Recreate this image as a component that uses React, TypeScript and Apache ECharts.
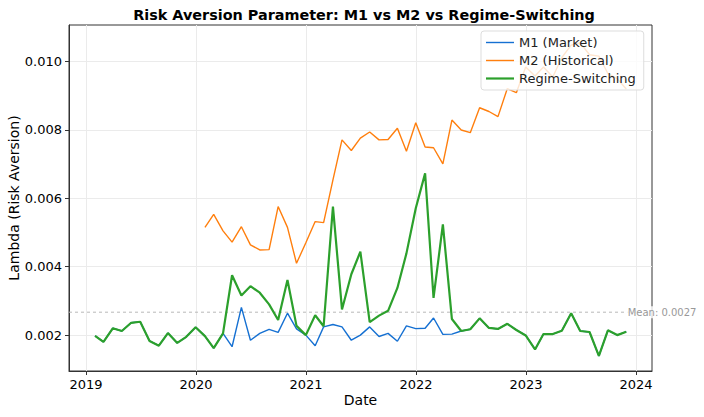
import { useEffect, useRef } from 'react';
import * as echarts from 'echarts';

// monthly (month-end) observations, first one is Jan 2019
const FIRST_YEAR = 2019;

const M1_MARKET = [
  0.00198, 0.0018, 0.0022, 0.00212, 0.00236, 0.00239, 0.00183, 0.00169, 0.00206, 0.00177,
  0.00195, 0.00223, 0.00197, 0.00162, 0.00205, 0.00166, 0.00281, 0.00185, 0.00205, 0.00217,
  0.00208, 0.00264, 0.00218, 0.002, 0.00169, 0.00224, 0.00231, 0.00224, 0.00185, 0.002,
  0.00224, 0.00196, 0.00205, 0.00182, 0.00227, 0.00219, 0.0022, 0.0025, 0.00202, 0.00203,
  0.00212, 0.00217, 0.00249, 0.00221, 0.00218, 0.00233, 0.00215, 0.00199, 0.00158, 0.00203,
  0.00203, 0.00213, 0.00264, 0.00212, 0.00209, 0.00139, 0.00214, 0.002, 0.0021,
];

const M2_HISTORICAL: (number | null)[] = [
  null, null, null, null, null, null, null, null, null, null,
  null, null, 0.00515, 0.00553, 0.00505, 0.00472, 0.00517, 0.00464, 0.00449, 0.0045,
  0.00576, 0.00515, 0.0041, 0.0047, 0.00532, 0.00529, 0.00654, 0.00771, 0.0074, 0.00776,
  0.00794, 0.00771, 0.00772, 0.00805, 0.00738, 0.00821, 0.0075, 0.00748, 0.00701, 0.00829,
  0.008, 0.00792, 0.00865, 0.00854, 0.00839, 0.00921, 0.00909, 0.00984, 0.00958, 0.00984,
  0.00955, 0.01012, 0.01048, 0.01055, 0.0102, 0.01016, 0.00965, 0.0095, 0.0092,
];

const REGIME_SWITCHING = [
  0.00198, 0.0018, 0.0022, 0.00212, 0.00236, 0.00239, 0.00183, 0.00169, 0.00206, 0.00177,
  0.00195, 0.00223, 0.00197, 0.00162, 0.00205, 0.00375, 0.00316, 0.00343, 0.00324, 0.0029,
  0.00244, 0.00361, 0.00227, 0.002, 0.00258, 0.00226, 0.00576, 0.00275, 0.00378, 0.00444,
  0.00238, 0.00257, 0.00271, 0.00338, 0.00439, 0.00571, 0.00673, 0.00309, 0.00524, 0.00247,
  0.00212, 0.00217, 0.00249, 0.00221, 0.00218, 0.00233, 0.00215, 0.00199, 0.00158, 0.00203,
  0.00203, 0.00213, 0.00264, 0.00212, 0.00209, 0.00139, 0.00214, 0.002, 0.0021,
];

const MEAN_LAMBDA = 0.00267;

const X_TICKS = [2019, 2020, 2021, 2022, 2023, 2024];
const Y_TICKS = [0.002, 0.004, 0.006, 0.008, 0.01];
const X_RANGE = [2018.8455, 2024.1455];
const Y_RANGE = [0.00095, 0.01107];

const SERIES_NAMES = ['M1 (Market)', 'M2 (Historical)', 'Regime-Switching'];
const COLORS = ['#1570d2', '#ff7f0e', '#2ca02c'];
const WIDTHS = [1.4, 1.4, 2.2];

const FONT = 'DejaVu Sans';
const YEAR_MS = 365.25 * 86400000;

// dates -> decimal years so the x axis stays linear in time
const toYear = (ms: number) => FIRST_YEAR + (ms - Date.UTC(FIRST_YEAR, 0, 1)) / YEAR_MS;
const xs = REGIME_SWITCHING.map((_, i) => toYear(Date.UTC(FIRST_YEAR, i + 1, 0)));

const pairs = (vals: (number | null)[]) =>
  vals.map((v, i) => [xs[i], v]).filter((p) => p[1] !== null);

// plain line swatch for the legend (no marker)
const lineIcon = (w: number) => `path://M0 0H28V${w}H0Z`;

export default function App() {
  const ref = useRef<HTMLDivElement>(null);

  useEffect(() => {
    if (!ref.current) return;
    const chart = echarts.init(ref.current, undefined, { renderer: 'svg' });

    const axisCommon = {
      axisLine: { show: true, lineStyle: { color: '#333', width: 1 } },
      axisTick: { show: true, length: 4, lineStyle: { color: '#333' } },
      splitLine: { show: true, lineStyle: { color: '#ebebeb', width: 1 } },
    };

    // dashed mean line across the whole plot, drawn under the data
    const meanSeries = {
      name: 'mean',
      type: 'line',
      z: 1,
      data: X_RANGE.map((x) => [x, MEAN_LAMBDA]),
      symbol: 'none',
      silent: true,
      color: '#b8b8b8',
      lineStyle: { width: 1, type: [3, 3] },
      emphasis: { disabled: true },
      markPoint: {
        silent: true,
        symbol: 'circle',
        symbolSize: 0,
        label: {
          show: true,
          position: 'right',
          distance: 0,
          formatter: `Mean: ${MEAN_LAMBDA.toFixed(4)}`,
          color: '#999',
          fontFamily: FONT,
          fontSize: 10,
          backgroundColor: 'rgba(255,255,255,0.8)',
          padding: [1, 1],
        },
        data: [{ coord: [2023.915, MEAN_LAMBDA] }],
      },
    };

    const seriesList = [M1_MARKET, M2_HISTORICAL, REGIME_SWITCHING].map((vals, i) => ({
      name: SERIES_NAMES[i],
      type: 'line',
      z: 2 + i,
      data: pairs(vals),
      symbol: 'none',
      color: COLORS[i],
      lineStyle: { width: WIDTHS[i] },
      emphasis: { disabled: true },
    }));

    chart.setOption({
      animation: false,
      backgroundColor: '#fff',
      textStyle: { fontFamily: FONT },
      title: {
        text: 'Risk Aversion Parameter: M1 vs M2 vs Regime-Switching',
        left: 359,
        textAlign: 'center',
        top: 3,
        textStyle: { fontFamily: FONT, fontSize: 14.4, fontWeight: 'bold', color: '#000' },
      },
      legend: {
        orient: 'vertical',
        left: 481,
        top: 31,
        z: 10,
        itemWidth: 28,
        itemHeight: 14,
        itemGap: 5,
        padding: [5, 8, 5, 5],
        backgroundColor: 'rgba(255,255,255,0.8)',
        borderColor: '#ddd',
        borderWidth: 1,
        borderRadius: 3,
        textStyle: { fontFamily: FONT, fontSize: 13, color: '#222' },
        data: SERIES_NAMES.map((name, i) => ({
          name,
          icon: lineIcon(WIDTHS[i]),
          itemStyle: { color: COLORS[i] },
        })),
      },
      grid: {
        left: 69,
        right: 52,
        top: 25,
        bottom: 46,
        outerBoundsMode: 'none',
        containLabel: false,
        show: true,
        borderColor: '#333',
        borderWidth: 1,
        backgroundColor: 'transparent',
      },
      xAxis: {
        type: 'value',
        min: X_RANGE[0],
        max: X_RANGE[1],
        name: 'Date',
        nameLocation: 'middle',
        nameGap: 22,
        nameMoveOverlap: false,
        nameTextStyle: { fontFamily: FONT, fontSize: 14, color: '#000' },
        ...axisCommon,
        axisTick: { ...axisCommon.axisTick, customValues: X_TICKS },
        axisLabel: {
          customValues: X_TICKS,
          fontFamily: FONT,
          fontSize: 13,
          color: '#000',
          margin: 7,
          formatter: (v: number) => String(Math.round(v)),
        },
      },
      yAxis: {
        type: 'value',
        min: Y_RANGE[0],
        max: Y_RANGE[1],
        name: 'Lambda (Risk Aversion)',
        nameLocation: 'middle',
        nameGap: 48,
        nameMoveOverlap: false,
        nameTextStyle: { fontFamily: FONT, fontSize: 14, color: '#000' },
        ...axisCommon,
        axisTick: { ...axisCommon.axisTick, customValues: Y_TICKS },
        axisLabel: {
          customValues: Y_TICKS,
          fontFamily: FONT,
          fontSize: 13,
          color: '#000',
          margin: 7,
          formatter: (v: number) => v.toFixed(3),
        },
      },
      series: [meanSeries, ...seriesList],
    });

    return () => chart.dispose();
  }, []);

  return (
    <div
      ref={ref}
      style={{ position: 'fixed', left: 0, top: 0, width: 704, height: 417, background: '#fff' }}
    />
  );
}
